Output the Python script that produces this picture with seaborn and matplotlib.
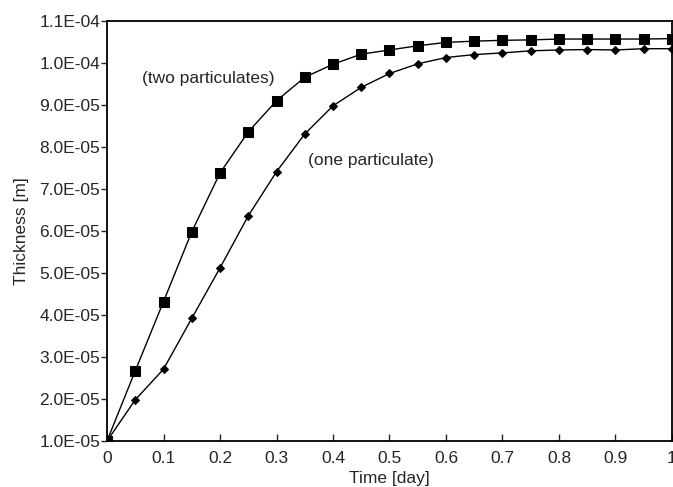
import numpy as np
import pandas as pd
import matplotlib
matplotlib.use("Agg")
import matplotlib.pyplot as plt
import seaborn as sns

time_day = [0.0, 0.05, 0.1, 0.15, 0.2, 0.25, 0.3, 0.35, 0.4, 0.45, 0.5,
            0.55, 0.6, 0.65, 0.7, 0.75, 0.8, 0.85, 0.9, 0.95, 1.0]
two_particulates = [1.0e-05, 2.67e-05, 4.32e-05, 5.98e-05, 7.38e-05, 8.36e-05,
                    9.10e-05, 9.66e-05, 9.97e-05, 1.021e-04, 1.031e-04,
                    1.041e-04, 1.049e-04, 1.052e-04, 1.054e-04, 1.055e-04,
                    1.057e-04, 1.057e-04, 1.057e-04, 1.057e-04, 1.058e-04]
one_particulate = [1.0e-05, 1.98e-05, 2.71e-05, 3.92e-05, 5.12e-05, 6.36e-05,
                   7.41e-05, 8.31e-05, 8.98e-05, 9.42e-05, 9.75e-05,
                   9.98e-05, 1.013e-04, 1.020e-04, 1.024e-04, 1.029e-04,
                   1.031e-04, 1.032e-04, 1.031e-04, 1.034e-04, 1.034e-04]
series_names = ["(two particulates)", "(one particulate)"]
x_ticks = [0, 0.1, 0.2, 0.3, 0.4, 0.5, 0.6, 0.7, 0.8, 0.9, 1.0]
x_tick_labels = ["0", "0.1", "0.2", "0.3", "0.4", "0.5", "0.6", "0.7", "0.8", "0.9", "1"]
y_ticks = [1.0e-05, 2.0e-05, 3.0e-05, 4.0e-05, 5.0e-05, 6.0e-05,
           7.0e-05, 8.0e-05, 9.0e-05, 1.0e-04, 1.1e-04]
y_tick_labels = ["1.0E-05", "2.0E-05", "3.0E-05", "4.0E-05", "5.0E-05", "6.0E-05",
                 "7.0E-05", "8.0E-05", "9.0E-05", "1.0E-04", "1.1E-04"]

df = pd.DataFrame({
    "Time": time_day * 2,
    "Thickness": two_particulates + one_particulate,
    "Series": [series_names[0]] * len(time_day) + [series_names[1]] * len(time_day),
})

sns.set_style("ticks")
plt.rcParams["font.family"] = ["Liberation Sans", "DejaVu Sans"]

fig = plt.figure(figsize=(6.73, 4.87), dpi=100)
ax = fig.add_axes([0.159, 0.0945, 0.8395, 0.8624])

sns.lineplot(data=df, x="Time", y="Thickness", hue="Series", style="Series",
             markers={series_names[0]: "s", series_names[1]: "D"},
             dashes=False, palette=["black", "black"], linewidth=1.0,
             markersize=6.5, markeredgecolor="black", legend=False, ax=ax)
# smaller diamonds
for line in ax.get_lines():
    if line.get_marker() == "D":
        line.set_markersize(4.5)

ax.set_xlim(0, 1.0)
ax.set_ylim(1.0e-05, 1.1e-04)
ax.set_xticks(x_ticks)
ax.set_xticklabels(x_tick_labels)
ax.set_yticks(y_ticks)
ax.set_yticklabels(y_tick_labels)
ax.tick_params(axis="x", direction="in", length=5, width=1, pad=7, labelsize=12.5)
ax.tick_params(axis="y", direction="out", length=4, width=1, pad=1, labelsize=12.5)
for s in ax.spines.values():
    s.set_visible(True)
    s.set_linewidth(1.3)
    s.set_color("black")

ax.set_xlabel("Time [day]", fontsize=12.5, labelpad=3.5)
ax.set_ylabel("Thickness [m]", fontsize=12.5, labelpad=7)

ax.text(0.062, 9.64e-05, series_names[0], fontsize=12.5, va="center", ha="left")
ax.text(0.355, 7.67e-05, series_names[1], fontsize=12.5, va="center", ha="left")

fig.savefig("out.png", dpi=100)
